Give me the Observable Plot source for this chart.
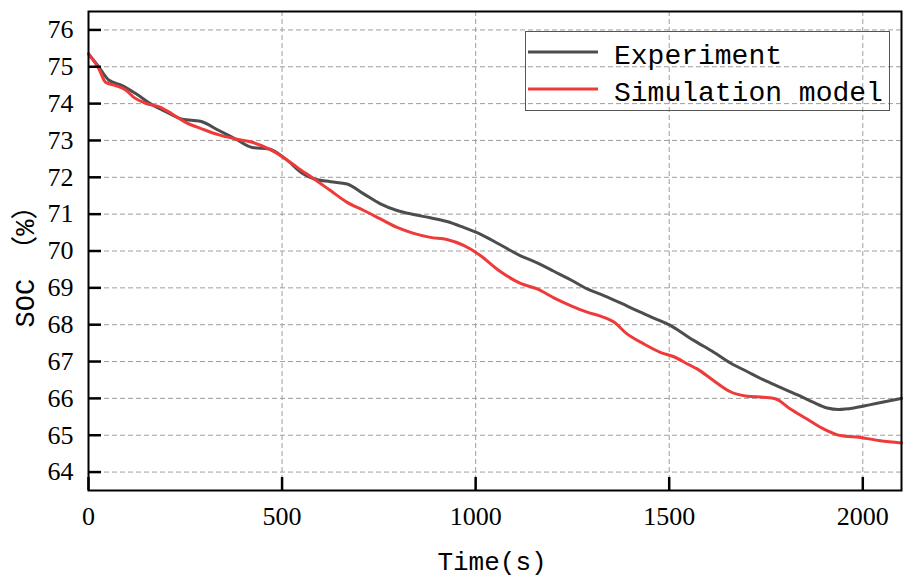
<!DOCTYPE html>
<html>
<head>
<meta charset="utf-8">
<script src="https://cdn.jsdelivr.net/npm/d3@7"></script>
<script src="https://cdn.jsdelivr.net/npm/@observablehq/plot@0.6"></script>
<style>
  html, body { margin: 0; padding: 0; background: white; }
  #chart { width: 911px; height: 583px; }
  #chart svg g[aria-label="y-axis tick label"] text,
  #chart svg g[aria-label="x-axis tick label"] text { font-family: "Liberation Serif", serif !important; }
</style>
</head>
<body>
<div id="chart"></div>
<script>
// Experiment series (time in s, SOC in %)
const expTime = [0, 27, 52, 87, 121, 164, 194, 242, 289, 337, 380, 423, 466, 509, 555, 582, 625, 668, 711, 754, 797, 840, 883, 926, 969, 1012, 1060, 1116, 1159, 1202, 1245, 1288, 1331, 1374, 1417, 1460, 1503, 1550, 1572, 1615, 1658, 1701, 1744, 1787, 1830, 1873, 1908, 1938, 1977, 2020, 2063, 2100];
const expSOC = [75.35, 74.99, 74.64, 74.49, 74.28, 73.97, 73.81, 73.58, 73.52, 73.27, 73.04, 72.81, 72.77, 72.50, 72.09, 71.96, 71.88, 71.82, 71.55, 71.28, 71.10, 70.99, 70.90, 70.80, 70.64, 70.46, 70.19, 69.87, 69.68, 69.45, 69.22, 68.97, 68.79, 68.59, 68.38, 68.18, 67.98, 67.66, 67.52, 67.25, 66.96, 66.73, 66.50, 66.30, 66.10, 65.89, 65.74, 65.70, 65.74, 65.83, 65.92, 66.00];

// Simulation model series
const simTime = [0, 27, 44, 70, 96, 117, 147, 186, 216, 251, 294, 337, 380, 423, 466, 509, 539, 582, 625, 668, 711, 754, 797, 840, 883, 926, 969, 1012, 1060, 1116, 1159, 1202, 1245, 1288, 1331, 1357, 1391, 1434, 1477, 1512, 1550, 1572, 1615, 1658, 1701, 1744, 1774, 1813, 1856, 1899, 1942, 1994, 2045, 2100];
const simSOC = [75.35, 74.94, 74.58, 74.49, 74.37, 74.17, 74.01, 73.90, 73.72, 73.49, 73.31, 73.15, 73.04, 72.95, 72.77, 72.50, 72.27, 71.96, 71.64, 71.32, 71.10, 70.87, 70.64, 70.48, 70.37, 70.31, 70.15, 69.88, 69.47, 69.12, 68.97, 68.73, 68.52, 68.34, 68.20, 68.07, 67.75, 67.48, 67.25, 67.13, 66.92, 66.80, 66.48, 66.18, 66.06, 66.03, 65.99, 65.71, 65.44, 65.17, 64.99, 64.94, 64.85, 64.79];

const xTicks = [0, 500, 1000, 1500, 2000];
const yTicks = [64, 65, 66, 67, 68, 69, 70, 71, 72, 73, 74, 75, 76];

const seriesNames = ["Experiment", "Simulation model"];
const seriesColors = ["#4d4d4d", "#f03a3a"];
const xTitle = "Time(s)";
const yTitle = "SOC （%）";

const W = 911, H = 583;
const mL = 88, mT = 11, mR = 10, mB = 93;
const frameW = W - mL - mR, frameH = H - mT - mB;
const tickLen = 13;

const expData = expTime.map((t, i) => ({t, v: expSOC[i]}));
const simData = simTime.map((t, i) => ({t, v: simSOC[i]}));

const gridStyle = {stroke: "#9e9e9e", strokeOpacity: 1, strokeWidth: 1, strokeDasharray: "5,3"};
const tickFont = "Liberation Serif";

const chart = Plot.plot({
  width: W, height: H,
  marginLeft: mL, marginTop: mT, marginRight: mR, marginBottom: mB,
  x: {domain: [0, 2100]},
  y: {domain: [63.5, 76.5]},
  style: {fontFamily: tickFont, fontSize: "26px", color: "black", background: "white"},
  marks: [
    Plot.gridX(xTicks.filter(d => d > 0), gridStyle),
    Plot.gridY(yTicks, gridStyle),
    Plot.line(expData, {x: "t", y: "v", stroke: seriesColors[0], strokeWidth: 3, curve: "monotone-x"}),
    Plot.line(simData, {x: "t", y: "v", stroke: seriesColors[1], strokeWidth: 3, curve: "monotone-x"}),
    Plot.ruleY(yTicks, {y: d => d, stroke: "black", strokeWidth: 2.5, insetRight: frameW - tickLen}),
    Plot.ruleX(xTicks, {x: d => d, stroke: "black", strokeWidth: 2.5, insetTop: frameH - tickLen}),
    Plot.axisY(yTicks, {tickSize: 0, tickPadding: 15, label: null, fontSize: 26, fontFamily: tickFont, tickFormat: d3.format("d")}),
    Plot.axisX(xTicks, {tickSize: 0, tickPadding: 16, label: null, fontSize: 26, fontFamily: tickFont, tickFormat: d3.format("d")}),
    Plot.frame({stroke: "black", strokeWidth: 2})
  ]
});

document.getElementById("chart").appendChild(chart);

// Titles and legend
const svg = d3.select(chart);
svg.selectAll("g[aria-label$='tick label'] text").attr("font-family", tickFont).style("font-family", tickFont);
const titleFont = "'Liberation Mono', 'Noto Sans CJK SC', monospace";

svg.append("text")
  .attr("transform", `translate(34,260) rotate(-90)`)
  .attr("text-anchor", "middle")
  .attr("font-family", titleFont)
  .attr("font-size", 27)
  .attr("fill", "black")
  .text(yTitle);

svg.append("text")
  .attr("x", 492).attr("y", 570)
  .attr("text-anchor", "middle")
  .attr("font-family", titleFont)
  .attr("font-size", 26)
  .attr("fill", "black")
  .text(xTitle);

const lg = svg.append("g");
lg.append("rect")
  .attr("x", 525.5).attr("y", 31.5).attr("width", 364).attr("height", 79)
  .attr("fill", "none").attr("stroke", "#555").attr("stroke-width", 1);
const rowY = [52, 89];
seriesNames.forEach((name, i) => {
  lg.append("line")
    .attr("x1", 528).attr("x2", 598).attr("y1", rowY[i]).attr("y2", rowY[i])
    .attr("stroke", seriesColors[i]).attr("stroke-width", 3);
  lg.append("text")
    .attr("x", 614).attr("y", rowY[i] + 12)
    .attr("text-anchor", "start")
    .attr("font-family", titleFont)
    .attr("font-size", 28)
    .attr("fill", "black")
    .text(name);
});
</script>
</body>
</html>
